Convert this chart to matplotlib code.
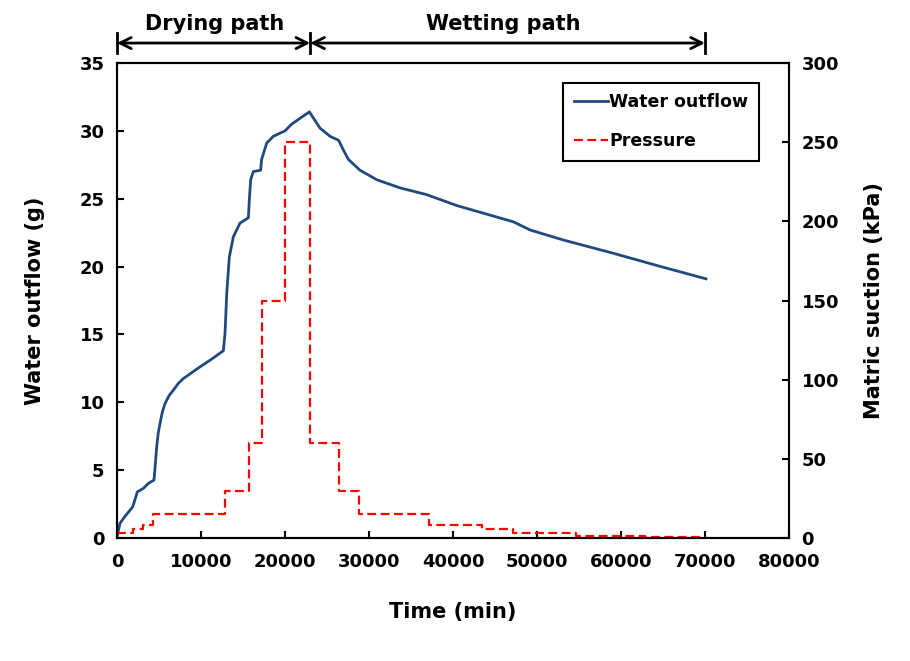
import matplotlib
matplotlib.use('Agg')
import matplotlib.pyplot as plt
import matplotlib.transforms as mtransforms

plt.rcParams['font.family'] = ['DejaVu Sans']
plt.rcParams['font.weight'] = 'bold'

# water outflow (g) vs time (min)
time_w = [0, 360, 950, 1870, 2420, 3140, 3730, 4400, 4500, 4720, 4900, 5120,
          5400, 5710, 6200, 6710, 7300, 7900, 8700, 9490, 11070, 12660,
          12860, 13060, 13370, 13850, 14640, 15640,
          15750, 15910, 16230, 17100, 17220, 17820, 18610, 20000, 20800, 22900,
          24170, 25360, 26390, 26940, 27540, 28930, 30920, 33690, 36870, 40440,
          47180, 49170, 53130, 59090, 65040, 70120]
outflow = [0.1, 1.1, 1.6, 2.3, 3.4, 3.66, 4.03, 4.27, 5.0, 6.7, 7.7, 8.45,
           9.3, 9.9, 10.5, 10.9, 11.4, 11.75, 12.1, 12.45, 13.1, 13.8,
           15.1, 18.0, 20.7, 22.2, 23.2, 23.6,
           24.9, 26.4, 27.0, 27.1, 27.9, 29.1, 29.6, 30.0, 30.5, 31.4,
           30.2, 29.6, 29.3, 28.6, 27.9, 27.1, 26.4, 25.8, 25.3, 24.5,
           23.3, 22.7, 21.96, 20.98, 19.95, 19.1]

# matric suction steps (kPa)
step_edges = [0, 1870, 3130, 4330, 12860, 15750, 17220, 20000, 23000, 26390,
              28850, 37180, 43420, 47180, 54640, 62860, 70000]
suction = [3, 6, 8, 15, 30, 60, 150, 250, 60, 30, 15, 8, 6, 3, 1.5, 0.5]

fig = plt.figure(figsize=(9.1, 6.61), dpi=100)
ax = fig.add_axes([0.1286, 0.186, 0.7384, 0.7187])
ax2 = ax.twinx()

l1, = ax.plot(time_w, outflow, color='#1F4A7E', lw=2.0, label='Water outflow')
st_x = step_edges
st_y = suction + [suction[-1]]
l2, = ax2.step(st_x, st_y, where='post', color='#FF0000', lw=1.6,
               ls=(0, (4, 2)), label='Pressure')

ax.set_xlim(0, 80000)
ax.set_ylim(0, 35)
ax2.set_ylim(0, 300)
ax.set_xticks(range(0, 80001, 10000))
ax.set_yticks(range(0, 36, 5))
ax2.set_yticks(range(0, 301, 50))

for a in (ax, ax2):
    for s in a.spines.values():
        s.set_linewidth(1.5)
    a.tick_params(direction='in', length=5, width=1.5, labelsize=13, pad=9)
ax.tick_params(axis='x', pad=11)

ax.set_xlabel('Time (min)', fontsize=15, fontweight='bold', labelpad=22)
ax.set_ylabel('Water outflow (g)', fontsize=15, fontweight='bold', labelpad=25)
ax2.set_ylabel('Matric suction (kPa)', fontsize=15, fontweight='bold', labelpad=18)

leg = ax2.legend(handles=[l1, l2], loc='upper left', bbox_to_anchor=(0.664, 0.958),
                 fontsize=12.5, handlelength=2.0, handletextpad=0.05,
                 labelspacing=1.2, borderpad=0.6, borderaxespad=0,
                 fancybox=False, edgecolor='black', framealpha=1)
leg.get_frame().set_linewidth(1.5)

# drying / wetting path arrows above the axes
trans = mtransforms.blended_transform_factory(ax.transData, ax.transAxes)
for x in (0, 23000, 70000):
    ax.plot([x, x], [1.021, 1.063], color='black', lw=2, transform=trans, clip_on=False)
arrow_kw = dict(arrowstyle='<->', lw=2, color='black', mutation_scale=20,
                shrinkA=0, shrinkB=0)
ax.annotate('', xy=(0, 1.042), xytext=(23000, 1.042), xycoords=trans,
            textcoords=trans, arrowprops=arrow_kw)
ax.annotate('', xy=(23000, 1.042), xytext=(70000, 1.042), xycoords=trans,
            textcoords=trans, arrowprops=arrow_kw)
ax.text(11600, 1.082, 'Drying path', transform=trans, ha='center', va='center',
        fontsize=15, fontweight='bold')
ax.text(46000, 1.082, 'Wetting path', transform=trans, ha='center', va='center',
        fontsize=15, fontweight='bold')

plt.savefig('out.png', dpi=100)
